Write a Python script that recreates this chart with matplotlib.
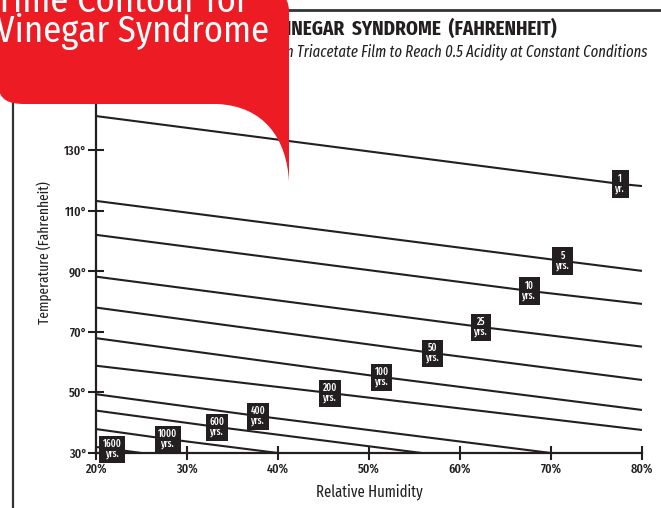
import matplotlib
matplotlib.use('Agg')
import matplotlib.pyplot as plt
from matplotlib.path import Path
from matplotlib.patches import PathPatch

# data
labels = ['1\nyr.', '5\nyrs.', '10\nyrs.', '25\nyrs.', '50\nyrs.', '100\nyrs.',
          '200\nyrs.', '400\nyrs.', '600\nyrs.', '1000\nyrs.', '1600\nyrs.']
t_start = [141.2, 113.2, 102.0, 88.2, 78.0, 67.9, 58.8, 49.4, 44.0, 37.9, 32.0]
rh_label = [77.6, 71.3, 67.6, 62.3, 57.0, 51.4, 45.7, 37.8, 33.3, 27.9, 21.8]
t_label = [118.8, 93.4, 83.5, 71.6, 63.0, 55.1, 49.8, 42.2, 38.6, 34.6, 31.3]
rh_end = [80, 80, 80, 80, 80, 80, 80, 70, 55.8, 40, 25]
t_end = [118.1, 90.1, 79.2, 65.1, 54.1, 44.2, 37.6, 30.0, 30.0, 30.0, 30.0]

x_ticks = [20, 30, 40, 50, 60, 70, 80]
y_ticks = [30, 50, 70, 90, 110, 130]

narrow = 'Fira Sans Extra Condensed'
banner_font = ['Fira Sans Condensed', 'Roboto']
ink = '#231f20'
W, H = 661, 508

fig = plt.figure(figsize=(W / 100, H / 100), dpi=100)

# page background layer (frame lines, title)
bg = fig.add_axes([0, 0, 1, 1], zorder=0)
bg.set_xlim(0, W)
bg.set_ylim(H, 0)
bg.axis('off')
bg.plot([13, 13], [95, H], color='#333333', lw=1.6)
bg.plot([288, W], [10, 10], color='#333333', lw=2)
bg.text(557, 29, 'VINEGAR  SYNDROME  (FAHRENHEIT)', ha='right', va='center',
        family=narrow, fontweight='bold', fontsize=14.9, color=ink)
bg.text(647, 52, 'n Triacetate Film to Reach 0.5 Acidity at Constant Conditions',
        ha='right', va='center', family=narrow, style='italic', fontsize=11.5, color=ink)

# chart
ax = fig.add_axes([96 / W, 1 - 453 / H, (642 - 96) / W, (453 - 100) / H], zorder=1)
ax.patch.set_alpha(0)
ax.set_xlim(20, 80)
ax.set_ylim(30, 146.5)

for i in range(len(labels)):
    ax.plot([20, rh_label[i], rh_end[i]], [t_start[i], t_label[i], t_end[i]],
            color=ink, lw=1.5, solid_capstyle='butt')
    ax.text(rh_label[i], t_label[i], labels[i], ha='center', va='center',
            color='white', family=narrow, fontweight='medium', fontsize=7.2,
            linespacing=0.85,
            bbox=dict(boxstyle='square,pad=0.35', fc=ink, ec='none'), zorder=5)

for s in ['top', 'right']:
    ax.spines[s].set_visible(False)
for s in ['left', 'bottom']:
    ax.spines[s].set_linewidth(1.6)
    ax.spines[s].set_color(ink)

ax.set_xticks(x_ticks)
ax.set_xticklabels([f'{v}%' for v in x_ticks])
ax.set_yticks(y_ticks)
ax.set_yticklabels([f'{v}°' for v in y_ticks])
ax.tick_params(axis='x', direction='inout', length=10, width=1.5, pad=2,
               color=ink, labelsize=9.5, labelcolor=ink)
ax.tick_params(axis='y', direction='inout', length=11, width=1.5, pad=1,
               color=ink, labelsize=9.5, labelcolor=ink)
for lab in ax.get_xticklabels() + ax.get_yticklabels():
    lab.set_family(narrow)
    lab.set_fontweight('medium')

ax.set_xlabel('Relative Humidity', family=narrow, fontsize=11.5, color=ink, labelpad=6)
ax.set_ylabel('Temperature (Fahrenheit)', family=narrow, fontsize=10.5, color=ink)
ax.yaxis.set_label_coords(-0.08, 0.569)

# red banner on top
fg = fig.add_axes([0, 0, 1, 1], zorder=10)
fg.set_xlim(0, W)
fg.set_ylim(H, 0)
fg.axis('off')
verts = [(-5, -5), (280, -5),
         (285, -5), (289, 2), (289, 12),
         (289, 182),
         (287, 140), (265, 106), (217, 104),
         (25, 104),
         (8, 104), (0, 100), (-2, 86),
         (-5, -5)]
codes = [Path.MOVETO, Path.LINETO,
         Path.CURVE4, Path.CURVE4, Path.CURVE4,
         Path.LINETO,
         Path.CURVE4, Path.CURVE4, Path.CURVE4,
         Path.LINETO,
         Path.CURVE4, Path.CURVE4, Path.CURVE4,
         Path.CLOSEPOLY]
fg.add_patch(PathPatch(Path(verts, codes), fc='#ed1c24', ec='none'))
fg.text(-4, 12, 'Time Contour for', ha='left', va='baseline', color='white',
        family=banner_font, fontsize=26.3)
fg.text(-4, 42, 'Vinegar Syndrome', ha='left', va='baseline', color='white',
        family=banner_font, fontsize=26.3)

fig.savefig('out.png', dpi=100)
